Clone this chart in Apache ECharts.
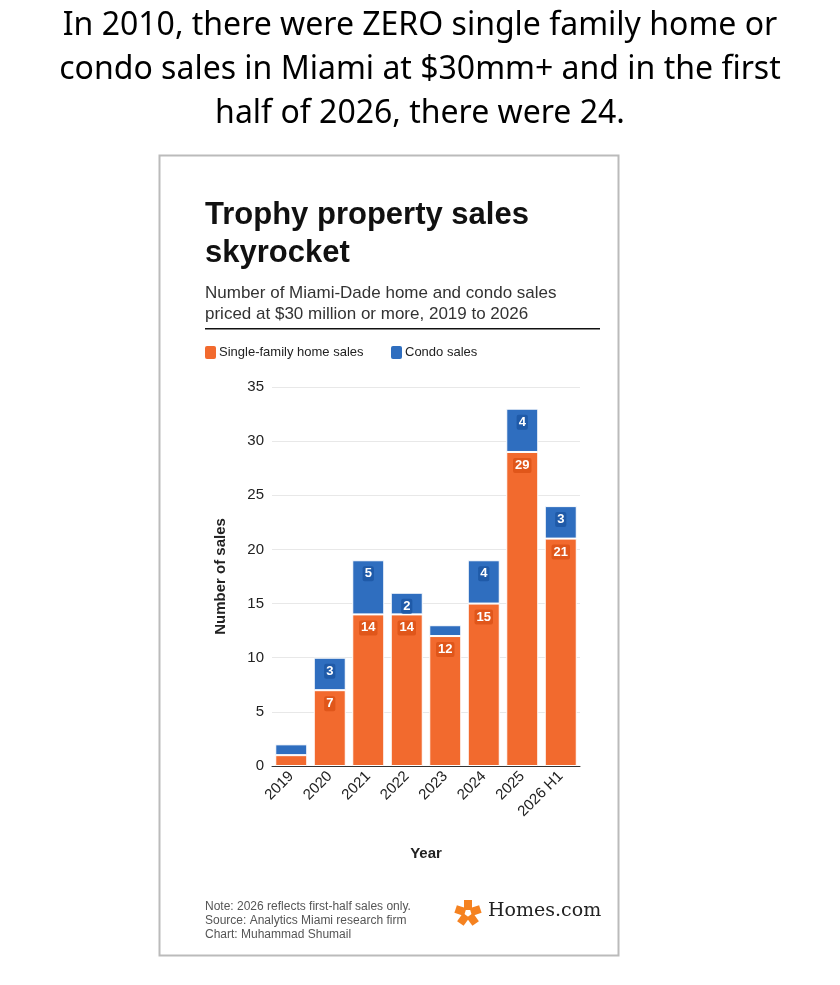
<!DOCTYPE html>
<html><head><meta charset="utf-8">
<script src="https://cdn.jsdelivr.net/npm/echarts@6/dist/echarts.min.js"></script>
<style>html,body{margin:0;padding:0;background:#fff}#c{width:840px;height:985px}</style>
</head><body><div id="c"></div>
<script>
const years = ["2019", "2020", "2021", "2022", "2023", "2024", "2025", "2026 H1"];
const singleFamily = [1, 7, 14, 14, 12, 15, 29, 21];
const condo = [1, 3, 5, 2, 1, 4, 4, 3];
const yTicks = { min: 0, max: 35, interval: 5 };

const chart = echarts.init(document.getElementById("c"));
const font = "Arial, 'Liberation Sans', sans-serif";
const label = (bg) => ({
  show: true,
  position: "insideTop",
  distance: 6,
  color: "#fff",
  fontWeight: "bold",
  fontSize: 13,
  fontFamily: font,
  backgroundColor: bg,
  padding: [1, 2],
  borderRadius: 2
});
// small segments (value 1) carry no label
const items = arr => arr.map(v => (v >= 2 ? v : { value: v, label: { show: false } }));

// logo petals around a centre
const petals = [];
for (let i = 0; i < 5; i++) {
  const a = (i * 72 - 90) * Math.PI / 180;
  petals.push({
    type: "rect", x: 468 + Math.cos(a) * 8, y: 913 + Math.sin(a) * 8,
    originX: 0, originY: 0, rotation: -a,
    shape: { x: -5, y: -4, width: 10, height: 8 },
    style: { fill: "#f58220" }
  });
}

chart.setOption({
  animation: false,
  textStyle: { fontFamily: font },
  grid: { left: 272, right: 260, top: 387, bottom: 219 },
  legend: { show: false },
  xAxis: {
    type: "category", data: years,
    name: "Year", nameLocation: "middle", nameGap: 80,
    nameTextStyle: { fontSize: 15, fontWeight: "bold", color: "#222" },
    axisTick: { show: false },
    axisLine: { lineStyle: { color: "#333" } },
    axisLabel: { rotate: 45, fontSize: 15, color: "#222", margin: 8 }
  },
  yAxis: {
    type: "value", ...yTicks,
    name: "Number of sales", nameLocation: "middle", nameGap: 44,
    nameTextStyle: { fontSize: 15, fontWeight: "bold", color: "#222" },
    axisLabel: { fontSize: 15, color: "#222" },
    splitLine: { lineStyle: { color: "#e8e8e8" } }
  },
  series: [
    { type: "bar", stack: "s", name: "Single-family home sales", data: items(singleFamily), barWidth: 32,
      itemStyle: { color: "#f26a2e", borderColor: "#fff", borderWidth: 1 }, label: label("#e0561a") },
    { type: "bar", stack: "s", name: "Condo sales", data: items(condo),
      itemStyle: { color: "#2f6ebf", borderColor: "#fff", borderWidth: 1 }, label: label("#1f5aa8") }
  ],
  graphic: [
    { type: "text", x: 420, y: 4, style: { text: "In 2010, there were ZERO single family home or\ncondo sales in Miami at $30mm+ and in the first\nhalf of 2026, there were 24.", font: "32px 'Noto Sans', sans-serif", fill: "#000", align: "center", lineHeight: 44 } },
    { type: "rect", shape: { x: 159.5, y: 155.5, width: 459, height: 800 }, style: { fill: "none", stroke: "#bbb", lineWidth: 2 } },
    { type: "text", x: 205, y: 196, style: { text: "Trophy property sales\nskyrocket", font: "bold 31px Arial, 'Liberation Sans', sans-serif", fill: "#111", lineHeight: 38 } },
    { type: "text", x: 205, y: 283, style: { text: "Number of Miami-Dade home and condo sales\npriced at $30 million or more, 2019 to 2026", font: "17px Arial, 'Liberation Sans', sans-serif", fill: "#333", lineHeight: 21 } },
    { type: "rect", shape: { x: 205, y: 328, width: 395, height: 1.5 }, style: { fill: "#111" } },
    { type: "rect", shape: { x: 205, y: 346, width: 11, height: 13, r: 2 }, style: { fill: "#f26a2e" } },
    { type: "text", x: 219, y: 346, style: { text: "Single-family home sales", font: "13px Arial, 'Liberation Sans', sans-serif", fill: "#222" } },
    { type: "rect", shape: { x: 391, y: 346, width: 11, height: 13, r: 2 }, style: { fill: "#2f6ebf" } },
    { type: "text", x: 405, y: 346, style: { text: "Condo sales", font: "13px Arial, 'Liberation Sans', sans-serif", fill: "#222" } },
    { type: "text", x: 205, y: 900, style: { text: "Note: 2026 reflects first-half sales only.\nSource: Analytics Miami research firm\nChart: Muhammad Shumail", font: "12px Arial, 'Liberation Sans', sans-serif", fill: "#555", lineHeight: 14 } },
    ...petals,
    { type: "text", x: 488, y: 902, style: { text: "Homes.com", font: "19px 'DejaVu Serif', 'Liberation Serif', serif", fill: "#222" } }
  ]
});
</script></body></html>
